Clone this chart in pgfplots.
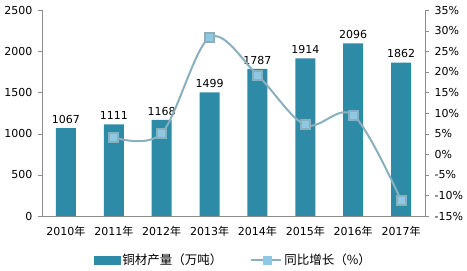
\documentclass[border=0pt]{standalone}
\usepackage{pgfplots}
\pgfplotsset{compat=1.18}
\usetikzlibrary{calc}
\usepackage{fontspec}
\setmainfont{DejaVu Sans}
\newfontfamily\cjk{Noto Sans CJK SC}
\definecolor{barcol}{HTML}{2E8BA7}
\definecolor{linecol}{HTML}{8AAFBD}
\definecolor{markcol}{HTML}{8FC8E2}
\definecolor{axcol}{HTML}{8C8C8C}
\begin{document}
\begin{tikzpicture}
\pgfplotsset{
  base/.style={
    scale only axis, width=383pt, height=206pt,
    xmin=-0.5, xmax=7.5,
    font=\fontsize{11}{12}\selectfont,
    /pgf/number format/assume math mode=true,
    /pgf/number format/1000 sep={},
    axis line style={axcol},
    tick style={axcol},
    major tick length=4pt,
  }
}
\begin{axis}[base, name=ax1,
  axis y line*=left, axis x line*=bottom,
  ymin=0, ymax=2500, ytick={0,500,1000,1500,2000,2500},
  yticklabel style={xshift=-2pt},
  ytick pos=left,
  tick align=outside,
  xtick={0,...,7},
  xticklabels={2010{\cjk 年},2011{\cjk 年},2012{\cjk 年},2013{\cjk 年},2014{\cjk 年},2015{\cjk 年},2016{\cjk 年},2017{\cjk 年}},
  x tick style={draw=none},
  extra x ticks={-0.5,0.5,...,7.5},
  extra x tick labels={},
  extra x tick style={tick style={axcol, draw=axcol}, major tick length=4pt, tick align=outside},
  xticklabel style={yshift=-3pt},
  legend style={at={(0.5,-0.165)}, anchor=north, legend columns=2, draw=none, fill=none,
    font=\fontsize{12.5}{14}\selectfont,
    /tikz/every even column/.append style={column sep=26pt}},
]
\addplot[ybar, bar width=20pt, fill=barcol, draw=none,
  nodes near coords, every node near coord/.append style={font=\fontsize{11}{12}\selectfont, black, yshift=1pt},
  forget plot]
  coordinates {(0,1067) (1,1111) (2,1168) (3,1499) (4,1787) (5,1914) (6,2096) (7,1862)};
\addlegendimage{legend image code/.code={\fill[barcol] (0pt,-4pt) rectangle (26pt,4pt);}}
\addlegendentry{\cjk 铜材产量（万吨）}
\addlegendimage{legend image code/.code={\draw[linecol, line width=2pt] (0pt,0pt) -- (30pt,0pt); \fill[markcol] (12pt,-4pt) rectangle (20pt,4pt);}}
\addlegendentry{\cjk 同比增长（\%）}
\end{axis}
\begin{axis}[base,
  axis y line*=right, axis x line=none,
  ymin=-15, ymax=35, ytick={-15,-10,...,35},
  yticklabel={\pgfmathprintnumber{\tick}\%},
  yticklabel style={xshift=2pt},
  tick align=outside,
]
\addplot[linecol, line width=2pt, smooth, tension=0.55,
  mark=square*, mark size=4.5pt, mark options={fill=markcol, draw=none}]
  coordinates {(1,4.1) (2,5.1) (3,28.3) (4,19.2) (5,7.1) (6,9.5) (7,-11.2)};
\end{axis}
\path[use as bounding box] ($(ax1.south west)+(-42pt,-54pt)$) rectangle ($(ax1.north east)+(42pt,10pt)$);
\end{tikzpicture}
\end{document}
